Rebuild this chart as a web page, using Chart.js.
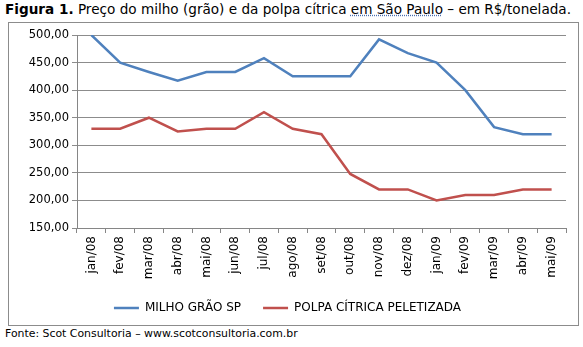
<!DOCTYPE html>
<html><head><meta charset="utf-8">
<script src="https://cdn.jsdelivr.net/npm/chart.js@4.4.0/dist/chart.umd.min.js"></script>
<style>
html,body{margin:0;padding:0;background:#fff;}
body{width:583px;height:347px;position:relative;overflow:hidden;font-family:"DejaVu Sans",Verdana,sans-serif;}
#title{position:absolute;left:5px;top:1px;font-size:13.6px;color:#000;white-space:nowrap;}
#title b{font-weight:bold;}
#title .sp{text-decoration:underline dotted #4a6fb0;}
#frame{position:absolute;left:8px;top:22px;width:569px;height:302px;border:1px solid #8c8c8c;}
#footer{position:absolute;left:5px;top:327px;font-size:10.9px;color:#000;white-space:nowrap;}
</style></head>
<body>
<div id="title"><b>Figura 1.</b> Preço do milho (grão) e da polpa cítrica <span class="sp">em São Paulo</span> – em R$/tonelada.</div>
<div id="frame"><canvas id="c" width="569" height="302"></canvas></div>
<div id="footer">Fonte: Scot Consultoria – www.scotconsultoria.com.br</div>
<script>
const categories = ["jan/08","fev/08","mar/08","abr/08","mai/08","jun/08","jul/08","ago/08","set/08","out/08","nov/08","dez/08","jan/09","fev/09","mar/09","abr/09","mai/09"];
const milhoGrao = [500,450,433,417,433,433,458,425,425,425,492,467,450,400,333,320,320];
const polpaCitrica = [330,330,350,325,330,330,360,330,320,248,220,220,200,210,210,220,220];
const yTicks = [150,200,250,300,350,400,450,500];

const fam = '"DejaVu Sans", Verdana, sans-serif';
new Chart(document.getElementById('c'), {
  type:'line',
  data:{labels:categories, datasets:[
    {label:'MILHO GRÃO SP', data:milhoGrao, borderColor:'#4F81BD', backgroundColor:'#4F81BD', borderWidth:2.5, pointRadius:0, tension:0},
    {label:'POLPA CÍTRICA PELETIZADA', data:polpaCitrica, borderColor:'#C0504D', backgroundColor:'#C0504D', borderWidth:2.5, pointRadius:0, tension:0}
  ]},
  options:{
    responsive:false, animation:false,
    layout:{padding:{left:0,right:12,top:12,bottom:1}},
    plugins:{
      legend:{position:'bottom', labels:{usePointStyle:true, pointStyle:'line', pointStyleWidth:25, color:'#000', font:{family:fam,size:12}, padding:22, boxHeight:2}},
      tooltip:{enabled:false}
    },
    scales:{
      x:{offset:true,
        grid:{offset:true, drawOnChartArea:false, drawTicks:true, tickLength:5, color:'#868686'},
        border:{color:'#868686'},
        ticks:{color:'#000', font:{family:fam,size:12}, minRotation:90, maxRotation:90, autoSkip:false, padding:3},
        afterFit(s){s.height=52;}
      },
      y:{min:150,max:500,
        afterBuildTicks(s){s.ticks=yTicks.map(v=>({value:v}));},
        grid:{color:'#8c8c8c', tickLength:5, drawTicks:true},
        border:{color:'#868686'},
        ticks:{color:'#000', font:{family:fam,size:11.5}, padding:3, callback:v=>v.toFixed(2).replace('.',',')},
        afterFit(s){s.width=68;}
      }
    }
  }
});
</script>
</body></html>
